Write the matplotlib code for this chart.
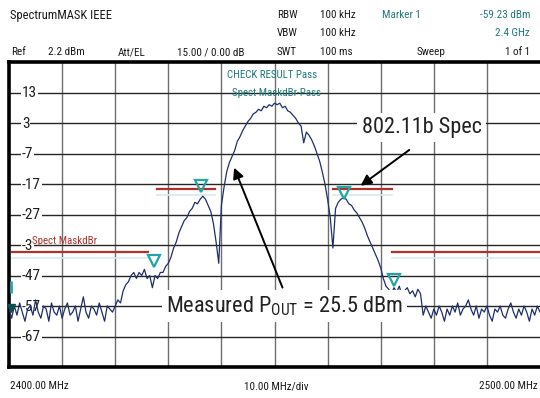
import matplotlib
matplotlib.use("Agg")
import matplotlib.pyplot as plt
import numpy as np
from matplotlib import font_manager
from matplotlib.transforms import blended_transform_factory

# ---------------- data ----------------
f_start, f_stop = 2400.0, 2500.0
level_dbm = [
    -58, -61, -57, -60, -56, -59, -62, -58, -57, -60,
    -55, -59, -61, -57, -58, -62, -56, -59, -60, -57,
    -61, -58, -56, -60, -59, -57, -62, -58, -54, -59,
    -61, -57, -58, -60, -56, -59, -62, -57, -58, -59,
    -57, -55, -56, -52, -50, -49, -47, -46, -48, -46,
    -47, -45, -48, -47, -51, -47, -48, -46, -46, -44,
    -43, -41, -38, -36, -33, -31, -29, -28, -26, -25,
    -23, -23.5, -22, -21, -22, -24, -26, -30, -36, -43,
    -24, -18, -13, -10, -8, -6, -3, -1.5, 0.5, 2,
    3.5, 4.5, 6, 6.5, 7.5, 7, 8.5, 8, 9, 8.5,
    9.5, 9, 9.5, 8, 8.5, 7, 6.5, 5.5, 4.5, 3,
    2, -3.5, 0, -1, -2.5, -4.5, -7, -9.5, -13, -17,
    -22, -28, -38, -25, -23, -22, -21.5, -22, -23.5, -24,
    -25.5, -26.5, -28, -29.5, -31.5, -34, -36, -38, -40, -42,
    -44.5, -48, -50.5, -51.5, -53, -51, -52.5, -50.5, -53.5, -52,
    -51, -53, -52, -54, -51.5, -53, -60, -57, -59, -61,
    -58, -60, -57, -59, -62, -58, -60, -57, -59, -56,
    -60, -58, -57, -55, -58, -60, -57, -61, -58, -59,
    -57, -60, -62, -58, -59, -57, -60, -61, -58, -56,
    -59, -61, -58, -60, -57, -59, -62, -58, -60, -57,
    -59,
]
freq_mhz = np.linspace(f_start, f_stop, len(level_dbm))

# spectrum mask segments (MHz start, MHz stop, level dBm)
mask_f0 = [2400.6, 2427.9, 2461.1, 2472.1]
mask_f1 = [2426.2, 2438.8, 2472.1, 2500.0]
mask_lv = [-39.4, -18.8, -18.8, -39.4]

# limit-check markers
marker_f = [2427.3, 2436.1, 2463.0, 2472.5]
marker_lv = [-42.2, -17.7, -20.0, -48.5]

# marker 1 (at the left edge)
m1_f, m1_lv = 2400.4, -57.5
m1_bar_lv = [-48.9, -52.7]

y_ticks = [13, 3, -7, -17, -27, -37, -47, -57, -67]
y_tick_text = ["13", "3", "-7", "-17", "-27", "-3", "-47", "-57", "-67"]
y_min, y_max = -77, 23

# ---------------- fonts ----------------
family, stretch, k = "Liberation Sans", "normal", 0.84
fnames = [(e.name, e.stretch) for e in font_manager.fontManager.ttflist]
found = False
for want in ["Liberation Sans Narrow", "Roboto Condensed", "Open Sans Condensed",
             "DejaVu Sans Condensed"]:
    for n, s in fnames:
        if n == want:
            family, stretch, k, found = n, s, 1.0, True
            break
    if found:
        break
if not found:
    for n, s in fnames:
        if s in ("condensed", "semi-condensed", "extra-condensed") and \
                any(x in n for x in ("Roboto", "Liberation", "DejaVu Sans", "Open Sans", "Noto Sans")):
            family, stretch, k, found = n, s, 1.0, True
            break
plt.rcParams["font.family"] = [family, "DejaVu Sans"]
plt.rcParams["font.stretch"] = stretch

W, H = 540, 398
fig = plt.figure(figsize=(W / 100, H / 100), dpi=100)
fig.patch.set_facecolor("white")

def fx(px):
    return px / W

def fy(py):
    return 1 - py / H

ax_l, ax_r, ax_t, ax_b = 9, 540, 62, 367
ax = fig.add_axes([fx(ax_l), fy(ax_b), (ax_r - ax_l) / W, (ax_b - ax_t) / H])
ax.set_xlim(f_start, f_stop)
ax.set_ylim(y_min, y_max)
ax.set_xticks(np.arange(f_start, f_stop + 1, 10))
ax.set_yticks(np.arange(y_min, y_max + 1, 10))
ax.tick_params(length=0, labelbottom=False, labelleft=False)
for s in ["left", "top", "bottom"]:
    ax.spines[s].set_linewidth(2.6)
    ax.spines[s].set_color("black")
ax.spines["right"].set_visible(False)

# grid
for v in np.arange(f_start + 10, f_stop, 10):
    ax.axvline(v, color="#6e6e6e", lw=1.0, zorder=1)
for v in np.arange(y_min + 10, y_max, 10):
    ax.axhline(v, color="#262626", lw=1.0, zorder=1)

# mask lines with faint shadow
for a, b, lv in zip(mask_f0, mask_f1, mask_lv):
    ax.plot([a, b], [lv - 1.8, lv - 1.8], color="#d6ecec", lw=1.2, zorder=2)
    ax.plot([a, b], [lv, lv], color="#b0302c", lw=1.6, zorder=3.6)

# y labels (under the trace, over the grid)
tr = blended_transform_factory(fig.transFigure, ax.transData)
for v, t in zip(y_ticks, y_tick_text):
    ax.text(fx(22), v - 0.3, t, transform=tr, ha="left", va="center",
            fontsize=11 * k, color="#1e1e1e", zorder=3,
            bbox=dict(facecolor="white", edgecolor="none", pad=0.6))

# trace
ax.plot(freq_mhz, level_dbm, color="#1f2f6b", lw=0.9, zorder=4)

# markers
ax.plot(marker_f, marker_lv, linestyle="none", marker="v",
        markersize=8, markerfacecolor="none", markeredgecolor="#23a3a3",
        markeredgewidth=1.6, zorder=5)

# marker 1 at left edge
ax.plot([m1_f], [m1_lv], marker="v", markersize=6, color="#0f4f4f",
        linestyle="none", zorder=6, clip_on=False)
ax.plot([m1_f - 0.1, m1_f - 0.1], m1_bar_lv, color="#2aa5a5", lw=2.0,
        zorder=6, solid_capstyle="butt")

# mask label
ax.text(fx(32.5), -35.8, "Spect MaskdBr", transform=tr, ha="left", va="center",
        fontsize=7.8 * k, color="#b0302c", zorder=7)

# check result
teal = "#1f7a7a"
ax.text(2449.6, 18.6, "CHECK RESULT Pass", ha="center", va="center",
        fontsize=7.8 * k, color=teal, zorder=6)
ax.text(2450.3, 13.0, "Spect MaskdBr-Pass", ha="center", va="center",
        fontsize=7.8 * k, color=teal, zorder=6)

# annotations
ax.annotate("", xy=(2465.8, -18.1), xytext=(2475.8, -5.3),
            arrowprops=dict(arrowstyle="-|>", color="black", lw=1.4,
                            mutation_scale=16), zorder=7)
ax.annotate("", xy=(2442.2, -10.8), xytext=(2451.7, -51.8),
            arrowprops=dict(arrowstyle="-|>", color="black", lw=1.4,
                            mutation_scale=16), zorder=7)
ax.text(2477.7, 1.6, "802.11b Spec", ha="center", va="center", fontsize=16 * k,
        color="#222222", zorder=8,
        bbox=dict(facecolor="white", edgecolor="none", pad=3))
ax.text(2451.9, -57.0, r"Measured P$_{\mathregular{OUT}}$ = 25.5 dBm", ha="center",
        va="center", fontsize=16 * k, color="#222222", zorder=8,
        bbox=dict(facecolor="white", edgecolor="none", pad=3))

# header texts
hc = "#1a1a1a"
hs = 8 * k
fig.text(fx(10), fy(16), "SpectrumMASK IEEE", fontsize=9 * k, color=hc, va="center")
fig.text(fx(11), fy(52), "Ref", fontsize=hs, color=hc, va="center")
fig.text(fx(48), fy(52), "2.2 dBm", fontsize=hs, color=hc, va="center")
fig.text(fx(118), fy(52), "Att/EL", fontsize=hs, color=hc, va="center")
fig.text(fx(177), fy(52), "15.00 / 0.00 dB", fontsize=hs, color=hc, va="center")
fig.text(fx(277), fy(15), "RBW", fontsize=hs, color=hc, va="center")
fig.text(fx(320), fy(15), "100 kHz", fontsize=hs, color=hc, va="center")
fig.text(fx(382), fy(15), "Marker 1", fontsize=hs, color=teal, va="center")
fig.text(fx(530), fy(15), "-59.23 dBm", fontsize=hs, color=teal, va="center", ha="right")
fig.text(fx(277), fy(33), "VBW", fontsize=hs, color=hc, va="center")
fig.text(fx(320), fy(33), "100 kHz", fontsize=hs, color=hc, va="center")
fig.text(fx(530), fy(33), "2.4 GHz", fontsize=hs, color=teal, va="center", ha="right")
fig.text(fx(277), fy(52), "SWT", fontsize=hs, color=hc, va="center")
fig.text(fx(320), fy(52), "100 ms", fontsize=hs, color=hc, va="center")
fig.text(fx(417), fy(52), "Sweep", fontsize=hs, color=hc, va="center")
fig.text(fx(530), fy(52), "1 of 1", fontsize=hs, color=hc, va="center", ha="right")

# footer
fig.text(fx(10), fy(386), "2400.00 MHz", fontsize=hs, color=hc, va="center")
fig.text(fx(276), fy(386), "10.00 MHz/div", fontsize=hs, color=hc, va="center", ha="center")
fig.text(fx(538), fy(386), "2500.00 MHz", fontsize=hs, color=hc, va="center", ha="right")

fig.savefig("out.png", dpi=100, facecolor="white")
